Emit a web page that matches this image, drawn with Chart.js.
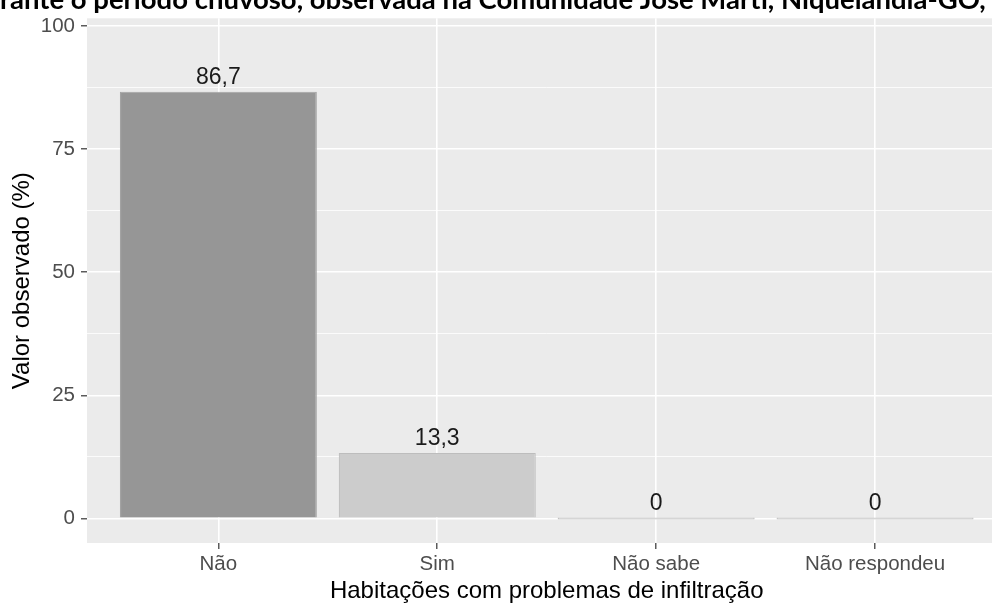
<!DOCTYPE html>
<html>
<head>
<meta charset="utf-8">
<script src="https://cdn.jsdelivr.net/npm/chart.js@4"></script>
<style>
  html, body { margin: 0; padding: 0; overflow: hidden; background: #ffffff; }
  #wrap { width: 1020px; height: 608px; position: relative; }
</style>
</head>
<body>
<main><div id="wrap"><canvas id="infiltChart"></canvas></div></main>
<script>
(function () {
  const categories = ["Não", "Sim", "Não sabe", "Não respondeu"];
  const values = [86.7, 13.3, 0, 0];
  const valueLabels = ["86,7", "13,3", "0", "0"];
  const yTicks = [0, 25, 50, 75, 100];
  const titleText = "rante o período chuvoso, observada na Comunidade José Martí, Niquelândia-GO,";

  const fills = ["#969696", "#cccccc", "#cccccc", "#cccccc"];
  const borders = ["#a3a3a3", "#bdbdbd", "#bdbdbd", "#bdbdbd"];

  const panelPlugin = {
    id: "panelBg",
    beforeDraw(chart) {
      const { ctx, chartArea: a } = chart;
      ctx.save();
      ctx.fillStyle = "#ebebeb";
      ctx.fillRect(a.left, a.top, a.right - a.left, a.bottom - a.top);
      ctx.restore();
    }
  };

  const labelPlugin = {
    id: "valueLabels",
    afterDatasetsDraw(chart) {
      const { ctx, scales } = chart;
      const meta = chart.getDatasetMeta(0);
      ctx.save();
      ctx.fillStyle = "#1a1a1a";
      ctx.font = "23px 'Liberation Sans', Arial, sans-serif";
      ctx.textAlign = "center";
      ctx.textBaseline = "alphabetic";
      meta.data.forEach((bar, i) => {
        const y = scales.y.getPixelForValue(values[i]);
        ctx.fillText(valueLabels[i], bar.x, y - 8);
      });
      ctx.restore();
    }
  };

  const titlePlugin = {
    id: "cutTitle",
    afterDraw(chart) {
      const { ctx } = chart;
      ctx.save();
      let size = 23;
      ctx.font = "bold " + size + "px Lato, 'Open Sans', sans-serif";
      const w = ctx.measureText(titleText).width;
      size = size * 986 / w;
      ctx.font = "bold " + size.toFixed(2) + "px Lato, 'Open Sans', sans-serif";
      ctx.fillStyle = "#000000";
      ctx.textAlign = "left";
      ctx.textBaseline = "alphabetic";
      ctx.fillText(titleText, 0, 9);
      ctx.restore();
    }
  };

  function init() {
    const ctx = document.getElementById("infiltChart");
    new Chart(ctx, {
      type: "bar",
      data: {
        datasets: [{
          data: values.map((v, i) => ({ x: i + 1, y: v })),
          backgroundColor: fills,
          borderColor: borders,
          borderWidth: 1.2,
          minBarLength: 2,
          categoryPercentage: 1,
          barPercentage: 0.9
        }]
      },
      options: {
        responsive: true,
        maintainAspectRatio: false,
        animation: false,
        layout: { padding: { top: 11, right: 13.6, left: 0, bottom: 0 } },
        plugins: {
          legend: { display: false },
          tooltip: { enabled: false }
        },
        scales: {
          x: {
            type: "linear",
            min: 0.4,
            max: 4.6,
            offset: false,
            afterBuildTicks: (axis) => { axis.ticks = categories.map((_, i) => ({ value: i + 1 })); },
            afterFit: (axis) => { axis.height = 65; },
            ticks: {
              callback: (v) => categories[v - 1] || "",
              color: "#4d4d4d",
              font: { family: "'Liberation Sans', Arial, sans-serif", size: 20.5 },
              padding: 3,
              maxRotation: 0,
              autoSkip: false
            },
            grid: { offset: false, color: "#ffffff", lineWidth: 1.6, tickColor: "#333333", tickLength: 6, tickWidth: 1.2 },
            border: { display: false },
            title: {
              display: true,
              text: "Habitações com problemas de infiltração",
              color: "#000000",
              font: { family: "'Liberation Sans', Arial, sans-serif", size: 24 },
              padding: { top: 0, bottom: 2 }
            }
          },
          y: {
            min: -5,
            max: 101.6,
            afterBuildTicks: (axis) => {
              const t = [];
              for (let i = 0; i < yTicks.length; i++) {
                t.push({ value: yTicks[i] });
                if (i < yTicks.length - 1) t.push({ value: (yTicks[i] + yTicks[i + 1]) / 2 });
              }
              axis.ticks = t;
            },
            afterFit: (axis) => { axis.width = 87; },
            ticks: {
              callback: (v) => yTicks.includes(v) ? String(v) : "",
              color: "#4d4d4d",
              font: { family: "'Liberation Sans', Arial, sans-serif", size: 20.5 },
              padding: 6
            },
            grid: {
              color: "#ffffff",
              lineWidth: (c) => yTicks.includes(c.tick.value) ? 1.6 : 0.8,
              tickColor: (c) => yTicks.includes(c.tick.value) ? "#333333" : "rgba(0,0,0,0)",
              tickLength: 6,
              tickWidth: 1.2
            },
            border: { display: false },
            title: {
              display: true,
              text: "Valor observado (%)",
              color: "#000000",
              font: { family: "'Liberation Sans', Arial, sans-serif", size: 24 },
              padding: { top: 8, bottom: 0 }
            }
          }
        }
      },
      plugins: [panelPlugin, labelPlugin, titlePlugin]
    });
  }

  window.addEventListener("DOMContentLoaded", init);
})();
</script>
</body>
</html>
